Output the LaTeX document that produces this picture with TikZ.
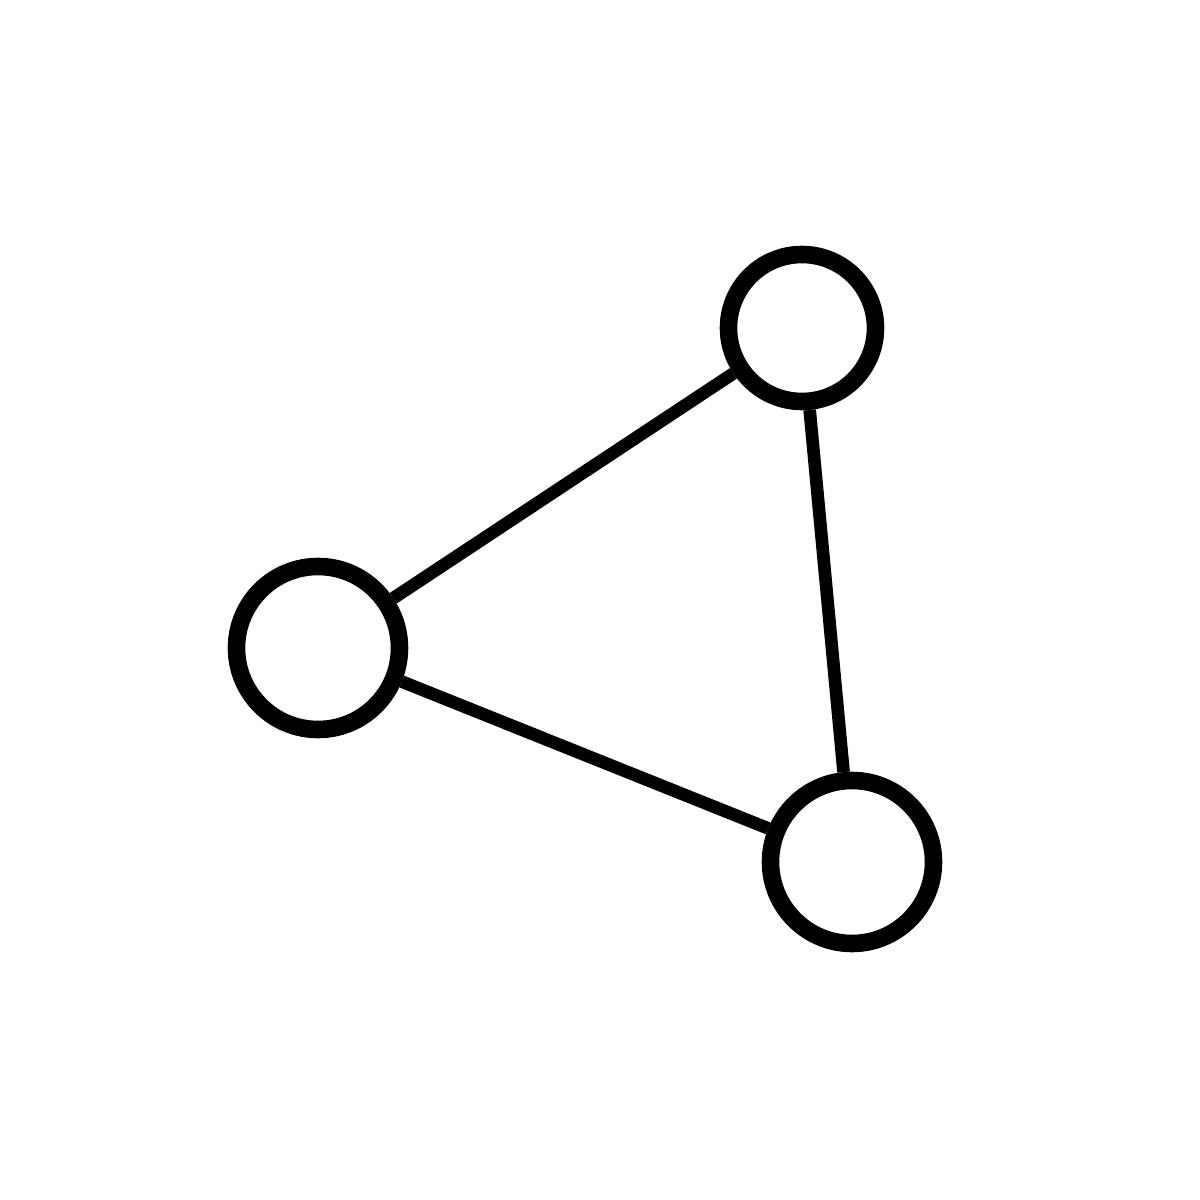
\documentclass[tikz,border=0pt]{standalone}
\begin{document}
\begin{tikzpicture}[vertex/.style={circle, draw, line width=5pt, inner sep=0pt}, edge/.style={line width=3.6pt}]
\useasboundingbox (0,0) rectangle (12,12);
\node [vertex, minimum size=1.63cm] (left) at (3.18,5.52) {};
\node [vertex, minimum size=1.47cm] (top) at (8.02,8.72) {};
\node [vertex, minimum size=1.63cm] (bottom) at (8.52,3.38) {};
\draw [edge] (left) -- (top);
\draw [edge] (top) -- (bottom);
\draw [edge] (left) -- (bottom);
\end{tikzpicture}
\end{document}
